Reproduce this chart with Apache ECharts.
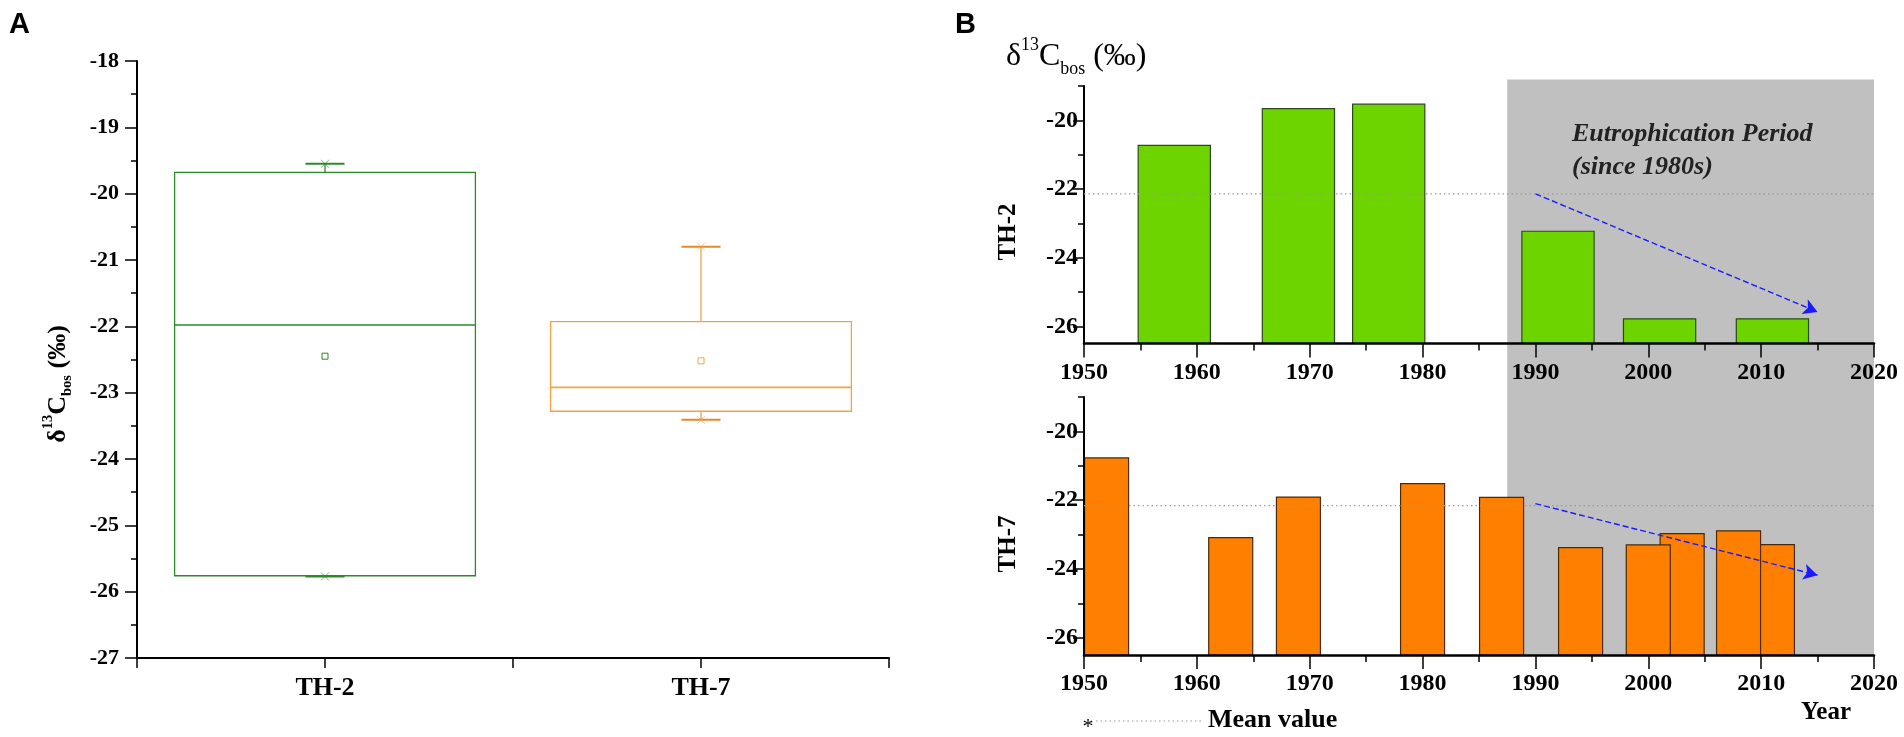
<!DOCTYPE html>
<html>
<head>
<meta charset="UTF-8">
<title>δ13Cbos</title>
<style>
    html, body { margin: 0; padding: 0; background: #fff; }
    #chart { width: 1904px; height: 737px; }
</style>
</head>
<body>
<div id="chart"></div>
<script src="https://cdn.jsdelivr.net/npm/echarts@6/dist/echarts.min.js"></script>
<script>
// panel A: box summary per core
const boxNames = ['TH-2', 'TH-7'];
const boxMin = [-25.77, -23.41];
const boxQ1 = [-25.76, -23.28];
const boxMedian = [-21.98, -22.92];
const boxQ3 = [-19.68, -21.93];
const boxMax = [-19.55, -20.80];
const boxMean = [-22.45, -22.52];

// panel B: values by year
const th2Years = [1958, 1969, 1977, 1992, 2001, 2011];
const th2Values = [-20.73, -19.66, -19.53, -23.23, -25.78, -25.78];
const th7Years = [1952, 1963, 1969, 1980, 1987, 1994, 2000, 2003, 2008, 2011];
const th7Values = [-20.77, -23.09, -21.91, -21.52, -21.92, -23.38, -23.30, -22.97, -22.89, -23.29];
const th2Mean = -22.14;
const th7Mean = -22.16;
const th2Trend = [[1990, -22.14], [2015, -25.58]];
const th7Trend = [[1990, -22.10], [2015, -24.18]];
const eutroPeriod = [1987.5, 2020];

// tick labels
const yearMin = 1950, yearMax = 2020;
const bMajorTicks = [-26, -24, -22, -20];
const bMinorTicks = [-25, -23, -21, -19];

const serif = "'Liberation Serif', 'Times New Roman', serif";
const boxColors = ['#2b8a2b', '#f2a445'];
const capColors = ['#2b8a2b', '#e58a2a'];

const chart = echarts.init(document.getElementById('chart'));

function boxItem(params, api) {
    const i = params.dataIndex;
    const c = boxColors[i];
    const cx = api.value(0);
    const x = api.coord([cx, api.value(3)])[0];
    const half = api.size([0.8, 0])[0] / 2;
    const capHalf = api.size([0.104, 0])[0] / 2;
    const y = k => api.coord([cx, api.value(k)])[1];
    const line = (x1, y1, x2, y2, w, col, op) => ({
        type: 'line',
        shape: { x1: x1, y1: y1, x2: x2, y2: y2 },
        style: { stroke: col || c, lineWidth: w, opacity: op == null ? 1 : op }
    });
    const cross = yy => [
        line(x - 4, yy - 4, x + 4, yy + 4, 1, c, 0.6),
        line(x - 4, yy + 4, x + 4, yy - 4, 1, c, 0.6)
    ];
    return {
        type: 'group',
        children: [
            { type: 'rect', shape: { x: x - half, y: y(4), width: half * 2, height: y(2) - y(4) },
              style: { fill: 'none', stroke: c, lineWidth: 1.3 } },
            line(x - half, y(3), x + half, y(3), 1.6),
            line(x, y(4), x, y(5), 1.3),
            line(x, y(2), x, y(1), 1.3),
            line(x - capHalf, y(5), x + capHalf, y(5), 2, capColors[i]),
            line(x - capHalf, y(1), x + capHalf, y(1), 2, capColors[i]),
            { type: 'rect', shape: { x: x - 3, y: y(6) - 3, width: 6, height: 6 },
              style: { fill: 'none', stroke: c, lineWidth: 1 } }
        ].concat(cross(y(5)), cross(y(1)))
    };
}

function barItem(widthYears, fill, stroke, baseValue) {
    return function (params, api) {
        const xv = api.value(0);
        const p0 = api.coord([xv - widthYears / 2, api.value(1)]);
        const p1 = api.coord([xv + widthYears / 2, baseValue]);
        return {
            type: 'rect',
            z2: 100 - params.dataIndex,
            shape: { x: p0[0], y: p0[1], width: p1[0] - p0[0], height: p1[1] - p0[1] },
            style: { fill: fill, stroke: stroke, lineWidth: 1.2 }
        };
    };
}

function yearAxis(gridIndex) {
    return {
        type: 'value', gridIndex: gridIndex, min: yearMin, max: yearMax, interval: 10, z: 3,
        axisLine: { show: true, lineStyle: { color: '#000', width: 2.5 } },
        axisTick: { show: true, length: 14, lineStyle: { color: '#000', width: 1.5 } },
        minorTick: { show: true, splitNumber: 2, length: 7, lineStyle: { color: '#000', width: 1.5 } },
        axisLabel: { margin: 17, color: '#000', fontFamily: serif, fontWeight: 'bold', fontSize: 24,
                     formatter: v => String(v) },
        splitLine: { show: false }
    };
}

function bValueAxes(gridIndex) {
    const base = {
        type: 'value', gridIndex: gridIndex, position: 'left', min: -26.5, max: -19, interval: 0.5, z: 3,
        splitLine: { show: false }
    };
    return [
        Object.assign({}, base, {
            axisLine: { show: true, lineStyle: { color: '#000', width: 2 } },
            axisTick: { show: true, length: 11, customValues: bMajorTicks, lineStyle: { color: '#000', width: 1.5 } },
            axisLabel: { customValues: bMajorTicks, margin: 6, color: '#000', fontFamily: serif, fontWeight: 'bold', fontSize: 24 }
        }),
        Object.assign({}, base, {
            axisLine: { show: false },
            axisTick: { show: true, length: 6, customValues: bMinorTicks, lineStyle: { color: '#000', width: 1.5 } },
            axisLabel: { show: false }
        })
    ];
}

const deltaRich = (size, weight) => ({
    m: { fontFamily: serif, fontSize: size, fontWeight: weight, lineHeight: size * 1.3, verticalAlign: 'middle', color: '#000' },
    sup: { fontFamily: serif, fontSize: size * 0.56, fontWeight: weight, lineHeight: size * 0.56, verticalAlign: 'top', color: '#000' },
    sub: { fontFamily: serif, fontSize: size * 0.56, fontWeight: weight, lineHeight: size * 0.56, verticalAlign: 'bottom', color: '#000' }
});
const deltaText = '{m|δ}{sup|13}{m|C}{sub|bos}{m| (‰)}';

const option = {
    animation: false,
    backgroundColor: '#fff',
    grid: [
        { left: 137, width: 752, top: 61, height: 597 },
        { left: 1084, width: 790, top: 86, height: 257.5 },
        { left: 1084, width: 790, top: 397, height: 258 },
        { left: 1084, width: 790, top: 79.5, height: 576 }
    ],
    xAxis: [
        {
            type: 'value', gridIndex: 0, min: 0, max: 2, interval: 0.5,
            axisLine: { show: true, lineStyle: { color: '#000', width: 2 } },
            axisTick: { show: true, length: 10, lineStyle: { color: '#000', width: 1.5 } },
            axisLabel: {
                customValues: [0.5, 1.5], margin: 17, color: '#000',
                fontFamily: serif, fontWeight: 'bold', fontSize: 26,
                formatter: v => boxNames[Math.floor(v)]
            },
            splitLine: { show: false }
        },
        yearAxis(1),
        yearAxis(2),
        { type: 'value', gridIndex: 3, min: yearMin, max: yearMax, show: false }
    ],
    yAxis: [
        {
            type: 'value', gridIndex: 0, min: -27, max: -18, interval: 1,
            axisLine: { show: true, lineStyle: { color: '#000', width: 2 } },
            axisTick: { show: true, length: 12, lineStyle: { color: '#000', width: 1.5 } },
            minorTick: { show: true, splitNumber: 2, length: 6, lineStyle: { color: '#000', width: 1.5 } },
            axisLabel: { margin: 18, color: '#000', fontFamily: serif, fontWeight: 'bold', fontSize: 22 },
            splitLine: { show: false }
        }
    ].concat(bValueAxes(1), bValueAxes(2), [
        { type: 'value', gridIndex: 3, min: 0, max: 1, show: false }
    ]),
    series: [
        {
            // eutrophication period shading
            type: 'custom', xAxisIndex: 3, yAxisIndex: 5, z: 0, silent: true,
            data: [eutroPeriod],
            renderItem: function (params, api) {
                const p0 = api.coord([api.value(0), 1]);
                const p1 = api.coord([api.value(1), 0]);
                return { type: 'rect', shape: { x: p0[0], y: p0[1], width: p1[0] - p0[0], height: p1[1] - p0[1] },
                         style: { fill: '#c0c0c0' } };
            }
        },
        {
            type: 'custom', xAxisIndex: 0, yAxisIndex: 0, z: 4, silent: true,
            data: boxNames.map((n, i) => [i + 0.5, boxMin[i], boxQ1[i], boxMedian[i], boxQ3[i], boxMax[i], boxMean[i]]),
            renderItem: boxItem
        },
        {
            name: 'TH-2', type: 'custom', xAxisIndex: 1, yAxisIndex: 1, z: 2, silent: true,
            data: th2Years.map((yr, i) => [yr, th2Values[i]]),
            renderItem: barItem(6.4, '#6dd400', '#2d4a1a', -26.5)
        },
        {
            name: 'TH-7', type: 'custom', xAxisIndex: 2, yAxisIndex: 3, z: 2, silent: true,
            data: th7Years.map((yr, i) => [yr, th7Values[i]]),
            renderItem: barItem(3.9, '#ff8000', '#4a2a08', -26.5)
        },
        {
            type: 'line', xAxisIndex: 1, yAxisIndex: 1, z: 5, silent: true, symbol: 'none',
            data: [[yearMin, th2Mean], [yearMax, th2Mean]],
            lineStyle: { color: '#999', width: 1.2, type: [1.5, 3] },
            markLine: {
                silent: true, symbol: ['none', 'arrow'], symbolSize: [12, 14], label: { show: false },
                lineStyle: { color: '#1a1aff', width: 1.4, type: [6, 3] },
                data: [[{ coord: th2Trend[0] }, { coord: th2Trend[1] }]]
            }
        },
        {
            type: 'line', xAxisIndex: 2, yAxisIndex: 3, z: 5, silent: true, symbol: 'none',
            data: [[yearMin, th7Mean], [yearMax, th7Mean]],
            lineStyle: { color: '#999', width: 1.2, type: [1.5, 3] },
            markLine: {
                silent: true, symbol: ['none', 'arrow'], symbolSize: [12, 14], label: { show: false },
                lineStyle: { color: '#1a1aff', width: 1.4, type: [6, 3] },
                data: [[{ coord: th7Trend[0] }, { coord: th7Trend[1] }]]
            }
        }
    ],
    graphic: [
        { type: 'text', left: 9, top: 10, style: { text: 'A', fontFamily: 'Liberation Sans', fontWeight: 'bold', fontSize: 29, fill: '#000' } },
        { type: 'text', left: 955, top: 10, style: { text: 'B', fontFamily: 'Liberation Sans', fontWeight: 'bold', fontSize: 29, fill: '#000' } },
        { type: 'text', x: 58, y: 384, rotation: Math.PI / 2,
          style: { text: deltaText, rich: deltaRich(26, 'bold'), align: 'center', verticalAlign: 'middle' } },
        { type: 'text', x: 1006, y: 57,
          style: { text: deltaText, rich: deltaRich(32, 'normal'), align: 'left', verticalAlign: 'middle' } },
        { type: 'text', x: 1009, y: 232, rotation: Math.PI / 2,
          style: { text: 'TH-2', fontFamily: serif, fontWeight: 'bold', fontSize: 25, fill: '#000', align: 'center', verticalAlign: 'middle' } },
        { type: 'text', x: 1009, y: 544, rotation: Math.PI / 2,
          style: { text: 'TH-7', fontFamily: serif, fontWeight: 'bold', fontSize: 25, fill: '#000', align: 'center', verticalAlign: 'middle' } },
        { type: 'text', x: 1572, y: 134, z: 10,
          style: { text: 'Eutrophication Period', fontFamily: serif, fontStyle: 'italic', fontWeight: 'bold', fontSize: 26, fill: '#222', verticalAlign: 'middle' } },
        { type: 'text', x: 1572, y: 167, z: 10,
          style: { text: '(since 1980s)', fontFamily: serif, fontStyle: 'italic', fontWeight: 'bold', fontSize: 26, fill: '#222', verticalAlign: 'middle' } },
        { type: 'text', x: 1826, y: 713,
          style: { text: 'Year', fontFamily: serif, fontWeight: 'bold', fontSize: 25, fill: '#000', align: 'center', verticalAlign: 'middle' } },
        { type: 'text', x: 1088, y: 727,
          style: { text: '*', fontFamily: serif, fontSize: 22, fill: '#000', align: 'center', verticalAlign: 'middle' } },
        { type: 'line', shape: { x1: 1096, y1: 721, x2: 1201, y2: 721 },
          style: { stroke: '#999', lineWidth: 1.2, lineDash: [1.5, 3] } },
        { type: 'text', x: 1208, y: 720,
          style: { text: 'Mean value', fontFamily: serif, fontWeight: 'bold', fontSize: 26, fill: '#000', verticalAlign: 'middle' } }
    ]
};

chart.setOption(option);
</script>
</body>
</html>
